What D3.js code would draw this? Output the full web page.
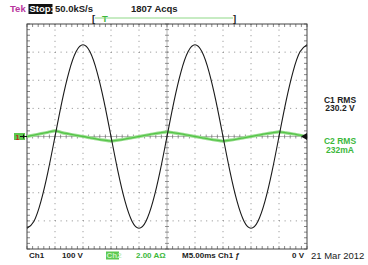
<!DOCTYPE html>
<html>
<head>
<meta charset="utf-8">
<script src="https://cdn.jsdelivr.net/npm/d3@7"></script>
<style>
body { margin: 0; background: #fff; }
text { font-family: "Liberation Sans", Arial, sans-serif; }
</style>
</head>
<body>
<script>
// sample times (ms) across the 10 divisions at 5 ms/div
var timeMs = [0, 1.25, 2.5, 3.75, 5, 6.25, 7.5, 8.75, 10, 11.25, 12.5, 13.75, 15, 16.25, 17.5, 18.75,
  20, 21.25, 22.5, 23.75, 25, 26.25, 27.5, 28.75, 30, 31.25, 32.5, 33.75, 35, 36.25, 37.5, 38.75,
  40, 41.25, 42.5, 43.75, 45, 46.25, 47.5, 48.75, 50];
// Ch1 voltage (V)
var ch1Volts = [-326, -301, -230, -125, 0, 125, 230, 301, 326, 301, 230, 125, 0, -125, -230, -301,
  -326, -301, -230, -125, 0, 125, 230, 301, 326, 301, 230, 125, 0, -125, -230, -301,
  -326, -301, -230, -125, 0, 125, 230, 301, 326];
// Ch2 current (A)
var ch2Amps = [0, 0.1, 0.2, 0.3, 0.4, 0.28, 0.18, 0.08, 0, -0.09, -0.18, -0.26, -0.32, -0.26, -0.18, -0.09,
  0, 0.09, 0.18, 0.26, 0.33, 0.26, 0.18, 0.09, 0, -0.09, -0.18, -0.26, -0.32, -0.26, -0.18, -0.09,
  0, 0.09, 0.18, 0.26, 0.33, 0.26, 0.18, 0.09, 0];

var hDivs = 10, vDivs = 8, minor = 5;
var plotL = 27, plotR = 307, plotT = 24, plotB = 249;

var svg = d3.select("body").append("svg")
  .attr("width", 368).attr("height", 265);
svg.append("rect").attr("width", 368).attr("height", 265).attr("fill", "#fff");

var x = d3.scaleLinear().domain([0, 50]).range([plotL, plotR]);
var yV = d3.scaleLinear().domain([-400, 400]).range([plotB, plotT]);
var yA = d3.scaleLinear().domain([-8, 8]).range([plotB, plotT]);
var gx = d3.scaleLinear().domain([0, hDivs]).range([plotL, plotR]);
var gy = d3.scaleLinear().domain([0, vDivs]).range([plotT, plotB]);

var grid = svg.append("g");
var dotStep = (plotR - plotL) / hDivs / minor;

// dotted graticule
d3.range(1, hDivs).filter(function(i){ return i != hDivs / 2; }).forEach(function(i){
  grid.append("line").attr("x1", gx(i)).attr("x2", gx(i)).attr("y1", plotT).attr("y2", plotB)
    .attr("stroke", "#8a8a8a").attr("stroke-width", 1)
    .attr("stroke-dasharray", "1," + (dotStep - 1));
});
d3.range(1, vDivs).filter(function(j){ return j != vDivs / 2; }).forEach(function(j){
  grid.append("line").attr("x1", plotL).attr("x2", plotR).attr("y1", gy(j)).attr("y2", gy(j))
    .attr("stroke", "#8a8a8a").attr("stroke-width", 1)
    .attr("stroke-dasharray", "1," + (dotStep - 1));
});

// center cross with minor ticks
var cx = gx(hDivs / 2), cy = gy(vDivs / 2);
grid.append("line").attr("x1", cx).attr("x2", cx).attr("y1", plotT).attr("y2", plotB)
  .attr("stroke", "#999").attr("stroke-width", 0.7);
grid.append("line").attr("x1", plotL).attr("x2", plotR).attr("y1", cy).attr("y2", cy)
  .attr("stroke", "#999").attr("stroke-width", 0.7);

var ticksX = d3.range(0, hDivs * minor + 1).map(function(k){ return gx(k / minor); });
var ticksY = d3.range(0, vDivs * minor + 1).map(function(k){ return gy(k / minor); });

grid.selectAll(".tx").data(ticksX).enter().append("line")
  .attr("x1", function(d){ return d; }).attr("x2", function(d){ return d; })
  .attr("y1", cy - 2).attr("y2", cy + 2).attr("stroke", "#666").attr("stroke-width", 0.7);
grid.selectAll(".ty").data(ticksY).enter().append("line")
  .attr("y1", function(d){ return d; }).attr("y2", function(d){ return d; })
  .attr("x1", cx - 2).attr("x2", cx + 2).attr("stroke", "#666").attr("stroke-width", 0.7);

// border ticks
grid.selectAll(".bt").data(ticksX).enter().append("line")
  .attr("x1", function(d){ return d; }).attr("x2", function(d){ return d; })
  .attr("y1", plotT).attr("y2", plotT + 3).attr("stroke", "#555").attr("stroke-width", 0.7);
grid.selectAll(".bb").data(ticksX).enter().append("line")
  .attr("x1", function(d){ return d; }).attr("x2", function(d){ return d; })
  .attr("y1", plotB - 3).attr("y2", plotB).attr("stroke", "#555").attr("stroke-width", 0.7);
grid.selectAll(".bl").data(ticksY).enter().append("line")
  .attr("y1", function(d){ return d; }).attr("y2", function(d){ return d; })
  .attr("x1", plotL).attr("x2", plotL + 3).attr("stroke", "#555").attr("stroke-width", 0.7);
grid.selectAll(".br").data(ticksY).enter().append("line")
  .attr("y1", function(d){ return d; }).attr("y2", function(d){ return d; })
  .attr("x1", plotR - 3).attr("x2", plotR).attr("stroke", "#555").attr("stroke-width", 0.7);

grid.append("rect").attr("x", plotL).attr("y", plotT)
  .attr("width", plotR - plotL).attr("height", plotB - plotT)
  .attr("fill", "none").attr("stroke", "#444").attr("stroke-width", 1);

// traces
var ptsV = timeMs.map(function(t, i){ return [t, ch1Volts[i]]; });
var ptsA = timeMs.map(function(t, i){ return [t, ch2Amps[i]]; });

var lineA = d3.line().x(function(d){ return x(d[0]); }).y(function(d){ return yA(d[1]); })
  .curve(d3.curveCardinal);
var lineV = d3.line().x(function(d){ return x(d[0]); }).y(function(d){ return yV(d[1]); })
  .curve(d3.curveNatural);

svg.append("path").attr("d", lineA(ptsA)).attr("fill", "none")
  .attr("stroke", "#9ade90").attr("stroke-width", 3.2);
svg.append("path").attr("d", lineA(ptsA)).attr("fill", "none")
  .attr("stroke", "#55c448").attr("stroke-width", 1.3);
svg.append("path").attr("d", lineV(ptsV)).attr("fill", "none")
  .attr("stroke", "#1a1a1a").attr("stroke-width", 1.1);

// channel markers
svg.append("rect").attr("x", 14).attr("y", cy - 3.5).attr("width", 11).attr("height", 7).attr("fill", "#5cc84f");
svg.append("text").attr("x", 15.5).attr("y", cy + 3).attr("font-size", 7).attr("font-weight", "bold")
  .attr("fill", "#d02020").text("1");
svg.append("path").attr("d", "M20," + cy + "L27," + cy + "M23.5," + (cy - 2) + "L23.5," + (cy + 2))
  .attr("stroke", "#111").attr("stroke-width", 1);
svg.append("path").attr("d", "M301," + cy + "L307," + (cy - 3.5) + "L307," + (cy + 3.5) + "Z")
  .attr("fill", "#111");

// header
var hdr = svg.append("g").attr("font-size", 9.5).attr("font-weight", "bold");
hdr.append("text").attr("x", 10).attr("y", 12).attr("fill", "#b8359e").text("Tek");
hdr.append("rect").attr("x", 28.5).attr("y", 4).attr("width", 24).attr("height", 10).attr("fill", "#111");
hdr.append("text").attr("x", 29.5).attr("y", 12).attr("fill", "#fff").text("Stop:");
hdr.append("text").attr("x", 55).attr("y", 12).attr("fill", "#222").text("50.0kS/s");
hdr.append("text").attr("x", 131).attr("y", 12).attr("fill", "#222").text("1807 Acqs");
hdr.append("text").attr("x", 92).attr("y", 21.5).attr("fill", "#222").text("[");
hdr.append("text").attr("x", 233).attr("y", 21.5).attr("fill", "#222").text("]");
svg.append("line").attr("x1", 95).attr("x2", 233).attr("y1", 18).attr("y2", 18)
  .attr("stroke", "#8fd887").attr("stroke-width", 1);
hdr.append("text").attr("x", 102).attr("y", 21.5).attr("fill", "#3cb83c").text("T");

// measurements
var meas = svg.append("g").attr("font-size", 8.5).attr("font-weight", "bold").attr("text-anchor", "middle");
meas.append("text").attr("x", 340).attr("y", 102.5).attr("fill", "#222").text("C1 RMS");
meas.append("text").attr("x", 340).attr("y", 111).attr("fill", "#222").text("230.2 V");
meas.append("text").attr("x", 340).attr("y", 144).attr("fill", "#3cb83c").text("C2 RMS");
meas.append("text").attr("x", 340).attr("y", 152.5).attr("fill", "#3cb83c").text("232mA");

// footer
var ftr = svg.append("g").attr("font-size", 8).attr("font-weight", "bold");
ftr.append("text").attr("x", 29).attr("y", 258).attr("fill", "#222").text("Ch1");
ftr.append("text").attr("x", 62).attr("y", 258).attr("fill", "#222").text("100 V");
ftr.append("rect").attr("x", 106).attr("y", 251.5).attr("width", 13).attr("height", 8).attr("fill", "#5cc84f");
ftr.append("text").attr("x", 106.5).attr("y", 258).attr("fill", "#c8f0c0").text("Ch2");
ftr.append("text").attr("x", 136).attr("y", 258).attr("fill", "#3cb83c").text("2.00 AΩ");
ftr.append("text").attr("x", 182).attr("y", 258).attr("fill", "#222").text("M5.00ms");
ftr.append("text").attr("x", 218).attr("y", 258).attr("fill", "#222").text("Ch1");
ftr.append("text").attr("x", 235).attr("y", 258).attr("fill", "#222").attr("font-style", "italic").text("ƒ");
ftr.append("text").attr("x", 304).attr("y", 258).attr("fill", "#222").attr("text-anchor", "end").text("0 V");
svg.append("text").attr("x", 311).attr("y", 259).attr("font-size", 9.5).attr("fill", "#222").text("21 Mar 2012");
</script>
</body>
</html>
